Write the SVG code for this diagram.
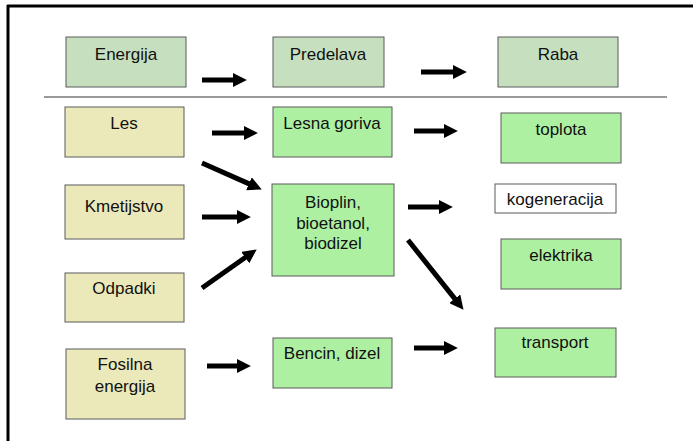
<svg xmlns="http://www.w3.org/2000/svg" width="693" height="441" viewBox="0 0 693 441">
<style>
  .box { stroke: #5a5a5a; stroke-width: 1; }
  .hdr { fill: #c6e0bf; }
  .src { fill: #ebe9b9; }
  .grn { fill: #aef0a1; }
  .wht { fill: #ffffff; }
  text { font-family: "Liberation Sans", Arial, sans-serif; font-size: 17px; fill: #111; text-anchor: middle; }
  .arr { stroke: #000; stroke-width: 5; fill: none; marker-end: url(#ah); }
</style>
<defs>
  <marker id="ah" markerUnits="userSpaceOnUse" markerWidth="14" markerHeight="14" viewBox="0 0 13 13" refX="2" refY="6.5" orient="auto">
    <path d="M0,0 L13,6.5 L0,13 z" fill="#000"/>
  </marker>
</defs>
<rect x="0" y="0" width="693" height="441" fill="#fff"/>
<line x1="7" y1="6" x2="693" y2="6" stroke="#000" stroke-width="3"/>
<line x1="8" y1="5" x2="8" y2="441" stroke="#000" stroke-width="3"/>
<line x1="44" y1="97" x2="667" y2="97" stroke="#9a9a9a" stroke-width="2"/>

<g id="energija"><rect class="box hdr" x="66" y="37" width="120" height="50"/><text x="126" y="60">Energija</text></g>
<g id="predelava"><rect class="box hdr" x="273" y="37" width="111" height="50"/><text x="328" y="60">Predelava</text></g>
<g id="raba"><rect class="box hdr" x="498" y="37" width="120" height="50"/><text x="558" y="60">Raba</text></g>

<g id="les"><rect class="box src" x="65" y="107" width="119" height="50"/><text x="124" y="129">Les</text></g>
<g id="kmetijstvo"><rect class="box src" x="65" y="185" width="119" height="54"/><text x="124" y="212">Kmetijstvo</text></g>
<g id="odpadki"><rect class="box src" x="65" y="273" width="119" height="49"/><text x="124" y="294">Odpadki</text></g>
<g id="fosilna"><rect class="box src" x="66" y="349" width="119" height="70"/><text x="125" y="370">Fosilna</text><text x="125" y="392">energija</text></g>

<g id="lesna"><rect class="box grn" x="273" y="107" width="119" height="50"/><text x="332" y="129">Lesna goriva</text></g>
<g id="bioplin"><rect class="box grn" x="272" y="184" width="122" height="92"/><text x="333" y="208">Bioplin,</text><text x="333" y="229">bioetanol,</text><text x="333" y="249">biodizel</text></g>
<g id="bencin"><rect class="box grn" x="273" y="338" width="119" height="50"/><text x="332" y="359">Bencin, dizel</text></g>

<g id="toplota"><rect class="box grn" x="501" y="113" width="120" height="50"/><text x="561" y="135">toplota</text></g>
<g id="kogeneracija"><rect class="box wht" x="495" y="184" width="121" height="29"/><text x="555" y="205">kogeneracija</text></g>
<g id="elektrika"><rect class="box grn" x="501" y="239" width="120" height="50"/><text x="561" y="261">elektrika</text></g>
<g id="transport"><rect class="box grn" x="495" y="328" width="121" height="49"/><text x="555" y="348">transport</text></g>

<g id="connectors">
  <line class="arr" x1="202" y1="80" x2="235" y2="80"/>
  <line class="arr" x1="421" y1="72" x2="455" y2="72"/>
  <line class="arr" x1="212" y1="133" x2="246" y2="133"/>
  <line class="arr" x1="202" y1="163" x2="250.9" y2="184.6"/>
  <line class="arr" x1="202" y1="217" x2="239" y2="217"/>
  <line class="arr" x1="202" y1="288" x2="247" y2="256.3"/>
  <line class="arr" x1="414" y1="131" x2="446" y2="131"/>
  <line class="arr" x1="408" y1="207" x2="441" y2="207"/>
  <line class="arr" x1="408" y1="240" x2="456.1" y2="300.4"/>
  <line class="arr" x1="207" y1="366" x2="239" y2="366"/>
  <line class="arr" x1="414" y1="348" x2="446" y2="348"/>
</g>
</svg>
